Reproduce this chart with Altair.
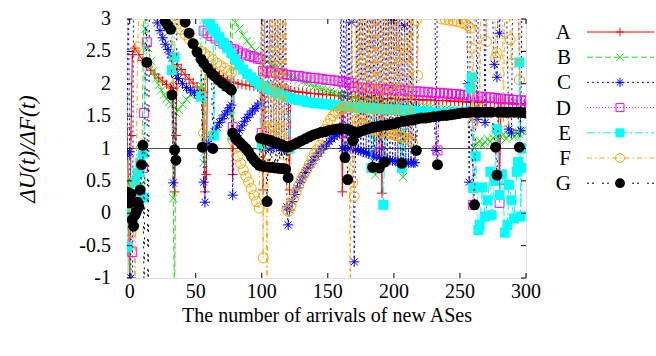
import altair as alt
import pandas as pd

# ---------------------------------------------------------------- data
x_ticks = [0, 50, 100, 150, 200, 250, 300]
y_ticks = [-1, -0.5, 0, 0.5, 1, 1.5, 2, 2.5, 3]
names = ["A", "B", "C", "D", "E", "F", "G"]

A_pts = [(-2, 1.32), (-1, 0.5), (0, -1.3), (1, 1.2), (2, 2.45), (4, 2.55), (7, 2.45), (10, 2.36),
         (13, 2.28), (16, 2.21), (19, 2.15), (22, 2.09), (25, 2.04), (28, 1.99), (31, 1.95), (33, 1.93),
         (34, 0.33), (35, 1.2), (36, 2.3), (39, 2.22), (42, 2.14), (45, 2.07), (48, 2.01), (51, 1.95),
         (54, 1.9), (56, 1.87), (57, 0.33), (58, 0.6), (59, 2.3), (62, 2.24), (65, 2.18), (68, 2.13),
         (71, 2.09), (74, 2.06), (77, 2.03), (78, 0.6), (79, 2.02), (82, 2.0), (85, 1.99), (88, 1.98),
         (91, 1.97), (94, 1.96), (97, 1.95), (100, 1.95), (101, 0.36), (102, 1.95), (104, 1.94),
         (106, 1.94), (108, 1.93), (110, 1.93), (112, 1.92), (114, 1.91), (116, 1.91), (118, 1.9),
         (120, 1.9), (121, 0.36), (122, 1.89), (125, 1.88), (128, 1.87), (131, 1.87), (134, 1.86),
         (137, 1.85), (140, 1.85), (143, 1.84), (146, 1.84), (149, 1.83), (152, 1.83), (155, 1.82),
         (158, 1.82), (160, 1.81), (161, 0.33), (162, 1.81), (165, 1.8), (168, 1.8), (171, 1.8),
         (174, 1.79), (177, 1.79), (180, 1.79), (183, 1.78), (186, 1.78), (189, 1.78), (190, 1.77),
         (191, 0.31), (192, 1.77), (195, 1.77), (198, 1.77), (201, 1.77), (204, 1.76), (207, 1.76),
         (210, 1.76), (213, 1.76), (216, 1.76), (219, 1.75), (222, 1.75), (225, 1.75), (228, 1.75),
         (231, 1.74), (234, 1.74), (237, 1.74), (240, 1.74), (243, 1.73), (246, 1.73), (249, 1.73),
         (252, 1.72), (255, 1.72), (258, 1.72), (261, 1.72), (264, 1.72), (267, 1.71), (270, 1.71),
         (273, 1.71), (276, 1.71), (279, 1.71), (280, 0.45), (281, 1.71), (284, 1.7), (287, 1.7),
         (290, 1.7), (293, 1.69), (296, 1.69), (299, 1.69), (300, 1.69)]

B_pts = [(-2, 1.8), (-1, 0.5), (0, -1.4), (1, 0.4), (3, 0.35), (9, 0.45), (11, 3.5), (12, 2.85),
         (14, 2.55), (16, 2.35), (18, 2.2), (20, 2.08), (22, 1.98), (24, 1.9), (26, 1.83), (28, 1.77),
         (30, 1.72), (32, 1.68), (33, 0.23), (34, -1.5), (35, 1.55), (37, 1.6), (40, 1.68), (43, 1.76),
         (46, 1.83), (49, 1.88), (52, 1.93), (55, 1.96), (56, 0.78), (57, 0.95), (58, 3.5), (76, 3.5),
         (77, 1.5), (78, 3.5), (80, 2.95), (83, 2.85), (86, 2.75), (89, 2.66), (92, 2.58), (95, 2.51),
         (98, 2.45), (101, 2.39), (104, 2.34), (107, 2.3), (110, 2.26), (113, 2.22), (116, 2.18),
         (119, 2.15), (122, 2.12), (125, 2.09), (128, 2.06), (131, 2.03), (134, 2.01), (137, 1.99),
         (140, 1.96), (143, 1.94), (146, 1.92), (149, 1.9), (152, 1.88), (155, 1.86), (158, 1.84),
         (161, 1.82), (164, 1.81), (167, 1.79), (170, 1.78), (173, 1.77), (176, 1.76), (179, 1.75),
         (182, 1.73), (185, 1.72), (186, 0.59), (187, 1.72), (190, 1.7), (193, 1.69), (196, 1.69),
         (199, 1.68), (202, 1.67), (205, 1.67), (207, 0.56), (209, 1.66), (212, 1.65), (215, 1.65),
         (218, 1.64), (221, 1.63), (224, 1.63), (227, 1.62), (230, 1.61), (233, 1.61), (236, 1.6),
         (239, 1.6), (242, 1.59), (245, 1.59), (248, 1.58), (251, 1.58), (254, 1.57), (257, 1.57),
         (259, 1.56), (261, 1.0), (263, 1.08), (265, 1.12), (267, 1.05), (269, 1.1), (271, 1.15),
         (273, 1.1), (275, 1.16), (277, 1.2), (279, 1.13), (281, 1.18), (283, 1.22), (285, 1.15),
         (287, 1.2), (289, 1.25), (291, 1.18), (293, 1.24), (295, 1.22), (297, 1.27), (300, 1.25)]

C_pts = [(-2, 0.9), (-1, 3.5), (0, 0.95), (1, -1.0), (2, -1.5), (3, 3.5), (19, 3.5), (21, 2.94),
         (23, 2.82), (25, 2.71), (27, 2.61), (29, 2.53), (31, 2.46), (32, 2.4), (33, 0.47), (34, 0.95),
         (35, 2.15), (37, 2.08), (40, 2.0), (43, 1.94), (46, 1.9), (49, 1.86), (52, 1.82), (55, 1.79),
         (56, 0.48), (57, 0.17), (58, 1.0), (60, 1.08), (62, 1.18), (64, 1.26), (66, 1.33), (68, 1.4),
         (70, 1.46), (72, 1.52), (74, 1.58), (76, 1.63), (77, 1.67), (78, 0.28), (79, 1.15), (81, 1.2),
         (83, 1.28), (85, 1.35), (87, 1.42), (89, 1.48), (91, 1.53), (93, 1.58), (95, 1.62), (97, 1.66),
         (99, 1.7), (100, 3.5), (101, 1.05), (102, 3.5), (103, 0.98), (104, 3.5), (105, 1.1),
         (106, 3.5), (107, 1.0), (108, 3.5), (109, 1.12), (110, 3.5), (111, 1.02), (112, 3.5),
         (113, 1.08), (114, 3.5), (115, 0.97), (116, 3.5), (117, 1.05), (118, 3.5), (119, 0.1),
         (120, -0.18), (121, 0.05), (123, 0.18), (125, 0.29), (127, 0.39), (129, 0.48), (131, 0.56),
         (133, 0.63), (135, 0.7), (137, 0.76), (139, 0.82), (141, 0.88), (143, 0.93), (145, 0.98),
         (147, 1.03), (149, 1.07), (151, 1.11), (153, 1.15), (155, 1.18), (157, 1.21), (159, 1.23),
         (160, 3.5), (161, 1.0), (162, 3.5), (163, 1.02), (164, 3.5), (165, 0.98), (166, 3.5),
         (167, 1.0), (168, 2.95), (169, 1.0), (170, -0.75), (171, 0.98), (172, 3.5), (173, 0.97),
         (174, 3.5), (175, 0.96), (176, 3.5), (177, 0.95), (178, 3.5), (179, 0.93), (180, 3.5),
         (181, 0.92), (182, 3.5), (183, 0.9), (184, 3.5), (185, 0.89), (186, 3.5), (187, 0.88),
         (188, 3.5), (189, 0.86), (190, 3.5), (191, 0.85), (192, 3.5), (193, 0.84), (194, 3.5),
         (195, 0.83), (196, 3.5), (197, 0.82), (198, 2.98), (199, 0.81), (200, 3.5), (201, 0.8),
         (202, 3.5), (203, 0.8), (204, 3.5), (205, 0.79), (206, 3.5), (207, 0.79), (208, 2.9),
         (209, 0.78), (210, 3.5), (211, 0.78), (212, 3.5), (213, 0.78), (214, 3.5), (215, 0.78),
         (216, 0.78), (217, 1.62), (218, 3.5), (231, 3.5), (232, 0.97), (233, 3.5), (255, 3.5),
         (256, 2.0), (257, 0.48), (258, 3.5), (262, 3.5), (263, 1.45), (264, 3.5), (268, 3.5),
         (269, 1.4), (270, 3.5), (274, 3.5), (276, 2.3), (278, 2.1), (279, 3.5), (280, 2.78),
         (281, 3.5), (285, 3.5), (287, 1.3), (289, 1.24), (290, 3.5), (294, 3.5), (296, 1.28),
         (297, 3.5), (300, 3.5)]

D_pts = [(-2, -0.15), (0, 0.05), (2, -0.6), (4, 0.2), (10, 0.7), (11, 1.55), (13, 2.64), (14, 3.5),
         (55, 3.5), (56, 2.82), (59, 2.78), (62, 2.74), (65, 2.7), (68, 2.66), (71, 2.62), (74, 2.58),
         (77, 2.54), (78, 1.33), (79, 2.53), (82, 2.5), (85, 2.47), (88, 2.45), (91, 2.43), (94, 2.41),
         (97, 2.39), (99, 2.38), (100, 1.24), (101, 2.2), (104, 2.19), (107, 2.18), (110, 2.17),
         (113, 2.16), (116, 2.15), (119, 2.14), (120, 1.0), (122, 2.13), (125, 2.12), (128, 2.12),
         (131, 2.11), (134, 2.1), (137, 2.09), (140, 2.09), (143, 2.08), (146, 2.07), (149, 2.06),
         (152, 2.06), (155, 2.05), (158, 2.04), (161, 2.03), (164, 2.03), (165, 1.24), (166, 2.02),
         (168, 2.01), (170, 1.95), (173, 1.94), (176, 1.94), (179, 1.93), (182, 1.93), (185, 1.92),
         (188, 1.92), (189, 0.95), (190, 1.92), (193, 1.91), (196, 1.91), (199, 1.9), (202, 1.9),
         (205, 1.9), (208, 1.89), (211, 1.89), (214, 1.88), (217, 1.88), (220, 1.88), (223, 1.87),
         (226, 1.87), (229, 1.86), (232, 1.86), (233, 0.97), (235, 1.86), (238, 1.85), (241, 1.85),
         (244, 1.84), (247, 1.84), (250, 1.83), (253, 1.83), (256, 1.82), (259, 1.81), (260, 0.13),
         (261, 1.81), (264, 1.8), (267, 1.8), (270, 1.79), (273, 1.79), (276, 1.78), (279, 1.77),
         (280, 0.16), (281, 1.77), (284, 1.76), (287, 1.76), (290, 1.75), (293, 1.75), (296, 1.74),
         (299, 1.74), (300, 1.74)]

E_pts = [(-2, -0.52), (-1, -0.05), (0, 0.1), (2, 0.25), (4, 0.48), (6, 0.62), (8, 0.78), (10, 0.93),
         (11, 0.24), (12, 3.5), (31, 3.5), (32, 2.21), (34, 2.41), (35, 3.5), (53, 3.5), (54, 1.8),
         (55, 3.5), (57, 3.15), (59, 3.0), (61, 2.92), (63, 2.85), (64, 1.2), (65, 2.8), (68, 2.72),
         (71, 2.63), (74, 2.55), (77, 2.47), (78, 1.2), (80, 2.38), (83, 2.29), (86, 2.22), (89, 2.15),
         (92, 2.1), (95, 2.04), (98, 1.99), (100, 1.05), (101, 1.96), (104, 1.93), (107, 1.9),
         (110, 1.87), (113, 1.85), (116, 1.82), (119, 1.8), (121, 1.0), (122, 1.78), (125, 1.76),
         (128, 1.75), (131, 1.74), (134, 1.72), (137, 1.71), (140, 1.7), (143, 1.7), (146, 1.69),
         (149, 1.68), (152, 1.68), (155, 1.67), (158, 1.66), (161, 1.66), (164, 1.65), (167, 1.64),
         (170, 1.64), (173, 1.63), (176, 1.63), (179, 1.62), (182, 1.62), (183, 0.7), (185, 1.62),
         (188, 1.61), (191, 1.61), (192, 0.13), (194, 1.61), (197, 1.6), (200, 1.6), (203, 1.6),
         (206, 0.7), (208, 1.59), (211, 1.58), (214, 1.58), (217, 1.57), (220, 1.57), (223, 1.56),
         (226, 1.56), (229, 1.55), (232, 1.55), (235, 1.55), (238, 1.55), (241, 1.55), (244, 1.55),
         (247, 1.56), (250, 1.56), (253, 1.56), (256, 1.57), (258, 1.93), (259, 2.1), (260, 0.39),
         (262, 0.88), (264, -0.26), (265, -0.18), (267, 0.4), (269, -0.05), (271, 0.2), (273, 0.64),
         (274, -0.03), (276, 0.5), (278, 1.3), (280, 0.28), (282, 0.6), (284, -0.3), (286, -0.18),
         (287, 0.44), (289, 0.2), (291, -0.08), (293, 0.64), (294, 0.79), (295, 2.33), (296, -0.05),
         (297, 0.7), (299, 1.0), (300, 1.0)]

F_pts = [(-2, 0.3), (-1, 0.47), (0, 0.15), (1, -0.3), (3, 0.1), (4, -1.5), (6, 2.57), (8, 3.5),
         (32, 3.5), (33, 1.95), (34, 3.0), (36, 2.93), (39, 2.84), (42, 2.76), (45, 2.69), (48, 2.62),
         (51, 2.56), (54, 2.5), (56, 1.24), (57, 2.46), (60, 2.42), (63, 2.37), (66, 2.32), (69, 2.28),
         (72, 2.24), (75, 2.2), (77, 2.17), (78, 1.13), (80, 1.0), (82, 0.88), (84, 0.77), (86, 0.67),
         (88, 0.57), (90, 0.48), (92, 0.38), (94, 0.28), (96, 0.18), (98, 0.08), (100, 3.5),
         (101, -0.69), (102, 3.5), (103, 1.25), (104, -1.5), (105, 1.3), (106, 3.5), (107, 1.2),
         (108, 3.5), (109, 1.35), (110, 3.5), (111, 1.15), (112, 3.5), (113, 1.3), (114, 3.5),
         (115, 1.2), (116, 3.5), (117, 0.9), (118, 3.5), (119, 0.05), (120, 0.03), (122, 0.12),
         (124, 0.22), (126, 0.31), (128, 0.42), (130, 0.52), (132, 0.6), (134, 0.67), (136, 0.75),
         (138, 0.84), (140, 0.92), (142, 0.98), (144, 1.05), (146, 1.15), (148, 1.3), (150, 1.38),
         (152, 1.45), (154, 1.51), (156, 1.55), (158, 1.58), (160, 1.6), (162, 1.62), (164, 1.64),
         (166, 1.65), (167, -1.5), (168, 3.5), (169, 0.48), (170, 0.26), (171, 3.5), (172, 1.45),
         (173, 3.5), (174, 1.4), (175, 3.5), (176, 1.38), (177, 3.5), (178, 1.35), (179, 3.5),
         (180, 1.33), (181, 3.5), (182, 1.3), (183, 3.5), (184, 1.3), (185, 3.5), (186, 1.28),
         (187, 3.5), (188, 1.27), (189, 3.5), (190, 1.25), (191, 3.5), (192, 1.25), (193, 3.5),
         (194, 1.24), (195, 3.5), (196, 1.23), (197, 3.5), (198, 1.22), (199, 3.5), (200, 1.21),
         (201, 3.5), (202, 1.2), (203, 3.5), (204, 1.19), (205, 3.5), (206, 1.18), (207, 2.6),
         (208, 2.4), (209, 3.5), (210, 1.15), (211, 3.5), (212, 1.12), (213, 3.5), (214, 1.1),
         (215, 3.5), (217, 2.98), (218, 2.13), (219, 3.5), (235, 3.5), (236, 3.0), (239, 2.99),
         (242, 2.98), (245, 2.97), (248, 2.96), (251, 2.94), (254, 2.92), (256, 2.9), (258, 2.86),
         (259, 2.55), (260, 1.4), (261, 3.5), (264, 3.5), (265, 1.62), (266, 3.5), (269, 3.5),
         (270, 2.65), (271, 3.5), (276, 3.5), (277, 2.4), (278, 2.48), (279, 3.5), (282, 3.5),
         (283, 1.41), (284, 3.5), (287, 3.5), (288, 2.68), (289, 2.32), (290, 3.5), (294, 3.5),
         (295, 2.06), (296, 3.5), (300, 3.5)]

G_pts = [(-2, 0.33), (-1, 0.2), (0, 0.16), (1, 0.3), (2, -0.1), (3, -0.2), (4, -0.03), (5, 0.02),
         (6, 0.17), (7, 0.1), (8, 0.36), (9, 0.75), (10, 1.05), (11, -1.5), (12, 3.5), (13, 2.33),
         (14, -1.5), (15, 3.5), (26, 3.5), (27, 2.96), (29, 2.9), (31, 2.84), (32, 1.83), (34, 0.98),
         (35, 0.82), (36, 3.5), (40, 3.5), (42, 2.95), (45, 2.78), (48, 2.62), (51, 2.49), (54, 2.38),
         (55, 1.02), (56, 2.32), (59, 2.24), (62, 2.16), (63, 1.0), (64, 2.12), (67, 2.06), (70, 2.01),
         (73, 1.96), (76, 1.92), (77, 1.9), (78, 1.24), (80, 1.17), (82, 1.12), (84, 1.08), (86, 1.04),
         (88, 1.0), (90, 0.95), (92, 0.88), (94, 0.83), (96, 0.78), (98, 0.74), (99, 1.16), (100, 0.73),
         (101, 1.15), (102, 0.72), (103, 1.14), (104, 0.18), (105, 1.13), (106, 0.71), (107, 1.12),
         (108, 0.71), (109, 1.1), (110, 0.7), (111, 1.09), (112, 0.7), (113, 1.07), (114, 0.69),
         (115, 1.06), (116, 0.69), (117, 1.04), (118, 0.68), (119, 1.02), (120, 0.55), (121, 1.03),
         (124, 1.06), (127, 1.09), (130, 1.12), (133, 1.15), (136, 1.18), (139, 1.21), (142, 1.23),
         (145, 1.25), (148, 1.26), (151, 1.28), (154, 1.29), (157, 1.3), (160, 1.31), (163, 0.86),
         (164, 1.3), (165, 0.52), (166, 1.29), (168, 1.27), (169, 1.12), (170, 1.25), (172, 1.24),
         (174, 1.26), (177, 1.28), (180, 1.3), (183, 1.32), (184, 0.71), (185, 1.33), (188, 1.34),
         (189, 0.7), (190, 1.35), (193, 0.79), (194, 1.36), (197, 1.37), (200, 1.38), (203, 1.4),
         (206, 0.77), (207, 1.42), (210, 1.43), (213, 1.44), (216, 1.45), (217, 0.97), (218, 1.46),
         (221, 1.47), (224, 1.47), (227, 1.48), (230, 1.49), (233, 0.75), (234, 1.5), (237, 1.51),
         (240, 1.51), (243, 1.52), (246, 1.53), (249, 1.54), (252, 1.55), (255, 1.55), (258, 1.56),
         (261, 0.13), (262, 1.56), (265, 1.56), (268, 1.56), (271, 1.56), (274, 1.56), (277, 1.02),
         (278, 0.59), (279, 1.56), (282, 1.56), (285, 1.56), (288, 1.56), (291, 1.56), (294, 1.56),
         (295, 1.02), (296, 1.56), (299, 1.55), (300, 1.55)]

series_pts = {"A": A_pts, "B": B_pts, "C": C_pts, "D": D_pts, "E": E_pts, "F": F_pts, "G": G_pts}

# ---------------------------------------------------------------- styles
FONT = "Liberation Serif"
W, H = 399, 259
PLUS = "M-1,0L1,0M0,-1L0,1"
TIMES = "M-1,-1L1,1M-1,1L1,-1"
STAR = "M-1,0L1,0M0,-1L0,1M-0.7,-0.7L0.7,0.7M-0.7,0.7L0.7,-0.7"

styles = {
    "A": dict(color="#ff0000", dash=None, shape=PLUS, filled=False, size=95),
    "B": dict(color="#22dd22", dash=[6, 3], shape=TIMES, filled=False, size=70),
    "C": dict(color="#0000ff", dash=[2, 3], shape=STAR, filled=False, size=105),
    "D": dict(color="#ff00ff", dash=[1, 2], shape="square", filled=False, size=80),
    "E": dict(color="#00ffff", dash=[8, 3, 2, 3], shape="square", filled=True, size=100),
    "F": dict(color="#ffa500", dash=[5, 3, 1.5, 3], shape="circle", filled=False, size=100),
    "G": dict(color="#000000", dash=[2, 3, 2, 8], shape="circle", filled=True, size=120),
}

x_scale = alt.Scale(domain=[-2, 300], nice=False, zero=False)
y_scale = alt.Scale(domain=[-1, 3], nice=False, zero=False)

# axes carry only the titles; tick labels are drawn as text marks below
x_axis = alt.Axis(values=x_ticks, title="The number of arrivals of new ASes", grid=False,
                  domain=False, ticks=False, tickSize=0, labels=False,
                  titleFont=FONT, titleFontSize=20, titleFontWeight="normal",
                  titleColor="black", titleY=43, titleBaseline="alphabetic")
y_axis = alt.Axis(values=y_ticks, title="ΔU(t)/ΔF(t)", grid=False, domain=False, ticks=False,
                  tickSize=0, labels=False,
                  titleFont=FONT, titleFontSize=23, titleFontStyle="italic",
                  titleFontWeight="normal", titleColor="black", titleX=-100, titleY=H / 2,
                  titleAngle=270, titleAlign="center", titleBaseline="middle")


def X(field="x"):
    return alt.X(f"{field}:Q", scale=x_scale, axis=x_axis)


def Y(field="y"):
    return alt.Y(f"{field}:Q", scale=y_scale, axis=y_axis)


layers = []

# reference line at ratio 1
one_df = pd.DataFrame({"y": [1]})
layers.append(alt.Chart(one_df).mark_rule(color="#505050", strokeWidth=1)
              .encode(y=Y(), x=alt.value(0), x2=alt.value(W)))

# the seven series: dashed connecting line plus a marker at every point
for name in names:
    st = styles[name]
    df = pd.DataFrame(series_pts[name], columns=["x", "y"])
    df["ord"] = range(len(df))
    line_kw = dict(color=st["color"], strokeWidth=1, clip=True)
    if st["dash"]:
        line_kw["strokeDash"] = st["dash"]
    base = alt.Chart(df)
    layers.append(base.mark_line(**line_kw).encode(x=X(), y=Y(), order="ord:Q"))
    layers.append(base.mark_point(shape=st["shape"], filled=st["filled"], size=st["size"],
                                  color=st["color"], opacity=1, strokeWidth=1, clip=True)
                  .encode(x=X(), y=Y()))

# inward ticks on all four sides of the frame
ytick_df = pd.DataFrame({"v": y_ticks, "lab": [f"{v:g}" for v in y_ticks]})
xtick_df = pd.DataFrame({"v": x_ticks, "lab": [f"{v:g}" for v in x_ticks]})
TL = 5
layers.append(alt.Chart(ytick_df).mark_rule(color="black", strokeWidth=1)
              .encode(y=Y("v"), x=alt.value(0), x2=alt.value(TL)))
layers.append(alt.Chart(ytick_df).mark_rule(color="black", strokeWidth=1)
              .encode(y=Y("v"), x=alt.value(W - TL), x2=alt.value(W)))
layers.append(alt.Chart(xtick_df).mark_rule(color="black", strokeWidth=1)
              .encode(x=X("v"), y=alt.value(H), y2=alt.value(H - TL)))
layers.append(alt.Chart(xtick_df).mark_rule(color="black", strokeWidth=1)
              .encode(x=X("v"), y=alt.value(0), y2=alt.value(TL)))

# tick labels
layers.append(alt.Chart(ytick_df).mark_text(align="right", baseline="middle", font=FONT,
                                            fontSize=20, color="black")
              .encode(y=Y("v"), x=alt.value(-16), text="lab:N"))
layers.append(alt.Chart(xtick_df).mark_text(align="center", baseline="alphabetic", font=FONT,
                                            fontSize=20, color="black")
              .encode(x=X("v"), y=alt.value(H + 20), text="lab:N"))

# key to the right of the frame
for i, name in enumerate(names):
    st = styles[name]
    ky = 13 + 25.2 * i
    kdf = pd.DataFrame({"label": [name]})
    rule_kw = dict(color=st["color"], strokeWidth=1)
    if st["dash"]:
        rule_kw["strokeDash"] = st["dash"]
    layers.append(alt.Chart(kdf).mark_rule(**rule_kw)
                  .encode(x=alt.value(460), x2=alt.value(527), y=alt.value(ky)))
    layers.append(alt.Chart(kdf).mark_point(shape=st["shape"], filled=st["filled"],
                                            size=st["size"] * 0.8, color=st["color"],
                                            opacity=1, strokeWidth=1)
                  .encode(x=alt.value(493), y=alt.value(ky)))
    layers.append(alt.Chart(kdf).mark_text(align="right", baseline="middle", font=FONT,
                                           fontSize=21, color="black")
                  .encode(x=alt.value(444), y=alt.value(ky + 1), text="label:N"))

chart = (alt.layer(*layers)
         .properties(width=W, height=H,
                     padding={"left": 127, "top": 19, "right": 130, "bottom": 78},
                     autosize=alt.AutoSizeParams(type="none"))
         .configure_axis(titleFont=FONT)
         .configure_text(font=FONT)
         .configure_view(stroke="black", strokeWidth=1)
         .configure(background="white"))

chart.save("out.html", embed_options={"renderer": "svg", "actions": False})
